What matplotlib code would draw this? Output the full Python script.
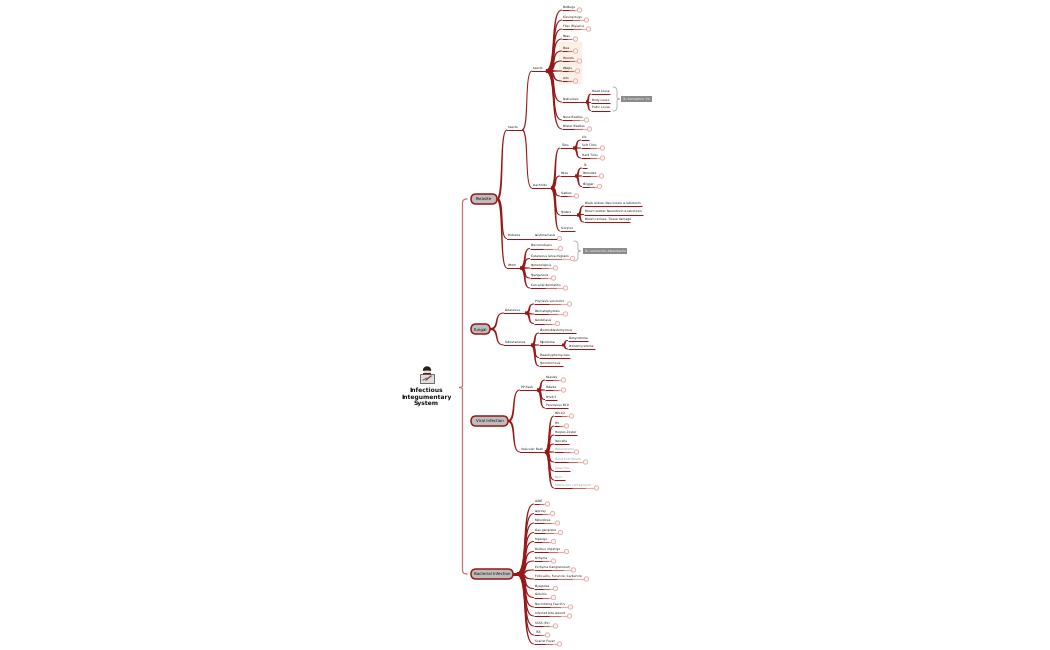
"""Mind map: Infectious Integumentary System."""

import numpy as np
import matplotlib
matplotlib.use("Agg")
import matplotlib.pyplot as plt
from matplotlib.patches import Circle, FancyBboxPatch, Rectangle, Wedge

plt.rcParams["text.hinting"] = "none"
plt.rcParams["text.hinting_factor"] = 1

DARK = "#981818"
MID = "#c06a6a"
PALE = "#e2aaaa"
FONT = "DejaVu Sans"
FS = 2.4
LINE = 0.75
TEXT_LIFT = 1.6

# Parasite > Insects
insect_labels = ["Bedbugs", "Kissing bugs", "Flies (Myiasis)", "Fleas", "Bees", "Hornets", "Wasps", "Ants",
                 "Pediculosis", "Nose Beetles", "Blister Beetles"]
insect_y = [10, 20, 29, 39, 51, 61, 71, 81, 102, 120, 129]
insect_end = [578, 585, 587, 574, 574, 578, 576, 574, 586, 585, 588]
insect_ring = [1, 1, 1, 1, 1, 1, 1, 1, 0, 1, 1]

louse_labels = ["Head Louse", "Body Louse", "Pubic Louse"]
louse_y = [94, 102.5, 110.5]
louse_end = [610, 610, 610]
louse_ring = [0, 0, 0]

# Parasite > Arachnids
arachnid_labels = ["Ticks", "Mites", "Scabies", "Spiders", "Scorpion"]
arachnid_y = [148, 176, 196, 215, 231]
arachnid_end = [573, 575, 575, 577, 575]
arachnid_ring = [0, 0, 1, 0, 0]

tick_labels = ["Life", "Soft Ticks", "Hard Ticks"]
tick_y = [140, 148, 158]
tick_end = [589, 601, 601]
tick_ring = [0, 1, 1]

mite_labels = ["Tx", "Demodex", "Chigger"]
mite_y = [168, 176, 186.5]
mite_end = [587, 600, 598]
mite_ring = [0, 1, 1]

spider_labels = ["Black widow: Neurotoxin α-latrotoxin", "Brown widow: Neurotoxin α-latrotoxin",
                 "Brown recluse: Tissue damage"]
spider_y = [206, 214.5, 222]
spider_end = [642, 643, 630]
spider_ring = [0, 0, 0]

worm_labels = ["Dracunculiasis", "Cutaneous larva migrans", "Hymenolepsis", "Sparganosis", "Cercarial dermatitis"]
worm_y = [248.5, 258.5, 268, 278, 288]
worm_end = [559, 571, 554, 552, 564]
worm_ring = [1, 1, 1, 1, 1]

# Fungal
cutaneous_labels = ["Pityriasis versicolor", "Dermatophytosis", "Candidiasis"]
cutaneous_y = [304, 314, 323.5]
cutaneous_end = [568, 564, 556]
cutaneous_ring = [1, 1, 1]

subcut_labels = ["Chromoblastomycosis", "Mycetoma", "Phaeohyphomycosis", "Sporotrichosis"]
subcut_y = [333, 345, 357.5, 366]
subcut_end = [576, 562, 570, 563]
subcut_ring = [0, 0, 0, 0]

mycetoma_labels = ["Eumycetoma", "Actinomycetoma"]
mycetoma_y = [340.5, 349]
mycetoma_end = [588, 595]
mycetoma_ring = [0, 0]

# Viral
pp_labels = ["Measles", "Rubella", "HHV6/7", "Parvovirus B19"]
pp_y = [380, 390, 399.5, 408]
pp_end = [562, 562, 557, 568]
pp_ring = [1, 1, 0, 0]

vesicular_labels = ["HSV1/2", "HIV", "Herpes Zoster", "Varicella", "Hemangioma", "Hand Foot Mouth", "Small Pox",
                    "Mpox", "Molluscum contagiosum"]
vesicular_y = [416, 426, 435, 444, 452, 462, 471, 480, 488]
vesicular_end = [570, 565, 577, 569, 575, 584, 570, 565, 595]
vesicular_ring = [1, 1, 0, 0, 1, 1, 0, 0, 1]
vesicular_faded = [0, 0, 0, 0, 1, 1, 1, 1, 1]

# Bacterial
bacterial_labels = ["ACNE", "Leprosy", "Melioidosis", "Gas gangrene", "Impetigo", "Bullous impetigo", "Ecthyma",
                    "Ecthyma Gangrenosum", "Folliculitis, Furuncle, Carbuncle", "Erysipelas", "Cellulitis",
                    "Necrotizing Fasciitis", "Infected bite wound", "SSSS (Pe)", "TSS", "Scarlet Fever"]
bacterial_y = [504, 513.5, 523, 532.5, 541.5, 551.5, 561, 570, 579, 588.5, 597.5, 607, 616, 626, 635, 644]
bacterial_end = [546, 551, 556, 559, 552, 565, 552, 572, 585, 554, 552, 569, 568, 554, 546, 558]
bacterial_ring = [1] * 16

main_labels = ["Parasite", "Fungal", "Viral Infection", "Bacterial Infection"]
main_y = [199, 329, 421, 574]
main_right = [497, 490, 508, 513]


def curve(x0, y0, x1, y1, n=40):
    # S shaped bezier that leaves and arrives horizontally
    t = np.linspace(0, 1, n)[:, None]
    dx = x1 - x0
    p = np.array([[x0, y0], [x0 + 0.75 * dx, y0], [x0 + 0.2 * dx, y1], [x1, y1]])
    return (1 - t) ** 3 * p[0] + 3 * (1 - t) ** 2 * t * p[1] + 3 * (1 - t) * t ** 2 * p[2] + t ** 3 * p[3]


def branch(ax, x0, y0, x1, y1, w0=2.6, w1=0.9, color=DARK):
    # tapered ribbon, thick at the hub
    pts = curve(x0, y0, x1, y1)
    d = np.gradient(pts, axis=0)
    norm = np.hypot(d[:, 0], d[:, 1])[:, None] + 1e-9
    nrm = np.hstack([-d[:, 1:2], d[:, 0:1]]) / norm
    w = np.linspace(w0, w1, len(pts))[:, None] / 2
    poly = np.vstack([pts + nrm * w, (pts - nrm * w)[::-1]])
    ax.fill(poly[:, 0], poly[:, 1], color=color, lw=0, zorder=3)


def label(ax, x, y, s, color="#111111", fs=FS, **kw):
    ax.text(x, y, s, fontsize=fs, color=color, family=FONT, va="bottom", ha="left", zorder=6, **kw)


def underline(ax, x0, x1, y, ring):
    ax.plot([x0, x1], [y, y], color=DARK, lw=LINE, zorder=3, solid_capstyle="butt")
    if ring:
        # the line fades out on its way to the ring
        span = x1 - x0
        ax.plot([x0 + span * 0.45, x0 + span * 0.75], [y, y], color=MID, lw=LINE, zorder=4, solid_capstyle="butt")
        ax.plot([x0 + span * 0.75, x1], [y, y], color=PALE, lw=LINE, zorder=4, solid_capstyle="butt")
        ax.add_patch(Circle((x1 + 1.5, y), 2.2, fc="#fdf3f3", ec=PALE, lw=0.6, zorder=5))


def leaf_row(ax, hub, x_text, labels, ys, ends, rings, faded=None):
    for i, (s, y, end, ring) in enumerate(zip(labels, ys, ends, rings)):
        branch(ax, hub[0], hub[1], x_text - 1, y)
        underline(ax, x_text - 1, end, y, ring)
        is_faded = faded is not None and faded[i]
        label(ax, x_text, y - TEXT_LIFT, s, color="#999999" if is_faded else "#111111")


def sub_node(ax, x_text, y, end, s):
    ax.plot([x_text - 1, end], [y, y], color=DARK, lw=LINE, zorder=3)
    label(ax, x_text, y - TEXT_LIFT, s)


def quad(p0, p1, p2, n=12):
    t = np.linspace(0, 1, n)[:, None]
    return (1 - t) ** 2 * np.array(p0) + 2 * (1 - t) * t * np.array(p1) + t ** 2 * np.array(p2)


def brace(ax, x, y0, y1, color="#a8a8a8", lw=0.6, bulge=4, tip=2.5):
    # right pointing curly brace
    ym = (y0 + y1) / 2
    xb = x + bulge
    top = [quad((x, y0), (xb, y0), (xb, y0 + bulge)), quad((xb, ym - 2), (xb, ym), (xb + tip, ym))]
    bottom = [quad((xb + tip, ym), (xb, ym), (xb, ym + 2)), quad((xb, y1 - bulge), (xb, y1), (x, y1))]
    pts = np.vstack(top + bottom)
    ax.plot(pts[:, 0], pts[:, 1], color=color, lw=lw, zorder=2)


def grey_tag(ax, x0, x1, y, s):
    ax.add_patch(Rectangle((x0, y - 2.6), x1 - x0, 5.2, fc="#8b8b8b", ec="none", zorder=5))
    ax.text((x0 + x1) / 2, y, s, fontsize=2.1, color="white", ha="center", va="center", family=FONT, zorder=6)


def draw_icon(ax):
    ax.add_patch(Rectangle((423.5, 367), 7, 7, fc="#f3dcc8", ec="none", zorder=3))
    ax.add_patch(Wedge((427, 370.5), 4.2, 175, 365, fc="#222222", ec="none", zorder=4))
    ax.add_patch(Rectangle((423, 373), 8, 3, fc="#2d2d2d", ec="none", zorder=3))
    ax.add_patch(Rectangle((420, 374), 14, 8.5, fc="#dddddd", ec="#555555", lw=0.6, zorder=5))
    ax.plot([426, 431], [380, 376], color="#a03030", lw=0.9, zorder=6)
    ax.plot([423, 427], [380, 378], color="#666666", lw=0.7, zorder=6)


fig = plt.figure(figsize=(10.5, 6.5), dpi=100)
ax = fig.add_axes([0, 0, 1, 1])
ax.set_xlim(0, 1050)
ax.set_ylim(650, 0)
ax.axis("off")

# peach box behind the stinging insects
ax.add_patch(FancyBboxPatch((559, 42), 23, 42, boxstyle="round,pad=0,rounding_size=2",
                            fc="#fdf1e6", ec="#f5dcc6", lw=0.4, ls=":", zorder=1))

# main brace
brace_pts = np.vstack([quad((467, 199), (462.5, 199), (462.5, 203)), quad((462.5, 385), (462.5, 387.5), (459.5, 387.5)),
                       quad((459.5, 387.5), (462.5, 387.5), (462.5, 390)), quad((462.5, 570), (462.5, 574), (467, 574))])
ax.plot(brace_pts[:, 0], brace_pts[:, 1], color="#c97070", lw=0.9, zorder=2)

# main nodes
for s, y, right in zip(main_labels, main_y, main_right):
    ax.add_patch(FancyBboxPatch((471, y - 5), right - 471, 10, boxstyle="round,pad=0,rounding_size=5",
                                fc="#bdbdbd", ec=DARK, lw=1.1, zorder=6))
    ax.text((471 + right) / 2, y, s, fontsize=3.0, ha="center", va="center", color="#111111", family=FONT, zorder=7)

# parasite
for y in (130, 238.5, 268):
    branch(ax, 497, 199, 507, y, 2.2, 0.9)
sub_node(ax, 508, 130, 522, "Insects")
sub_node(ax, 508, 238.5, 558, "Protozoa")
label(ax, 535, 238.5 - TEXT_LIFT, "Leishmaniasis")
ax.add_patch(Circle((559.5, 238.5), 2.2, fc="#fdf3f3", ec=PALE, lw=0.6, zorder=5))
sub_node(ax, 508, 268, 520, "Worm")

branch(ax, 522, 130, 532, 71, 1.3, 0.9)
branch(ax, 522, 130, 532, 188, 1.3, 0.9)
sub_node(ax, 533, 71, 546, "Insects")
sub_node(ax, 533, 188, 551, "Arachnids")

leaf_row(ax, (546, 71), 563, insect_labels, insect_y, insect_end, insect_ring)
leaf_row(ax, (586, 102), 592, louse_labels, louse_y, louse_end, louse_ring)
brace(ax, 613, 87, 111)
grey_tag(ax, 621, 652, 99, "Tx: Permethrin 1%")

leaf_row(ax, (551, 188), 561, arachnid_labels, arachnid_y, arachnid_end, arachnid_ring)
leaf_row(ax, (573, 148), 582, tick_labels, tick_y, tick_end, tick_ring)
leaf_row(ax, (575, 176), 583, mite_labels, mite_y, mite_end, mite_ring)
leaf_row(ax, (577, 215), 585, spider_labels, spider_y, spider_end, spider_ring)

leaf_row(ax, (520, 268), 531, worm_labels, worm_y, worm_end, worm_ring)
brace(ax, 574, 241, 261)
grey_tag(ax, 583, 627, 251, "Tx: Ivermectin, Albendazole")

# fungal
branch(ax, 490, 329, 504, 313, 2.2, 0.9)
branch(ax, 490, 329, 504, 345, 2.2, 0.9)
sub_node(ax, 505, 313, 525, "Cutaneous")
sub_node(ax, 505, 345, 531, "Subcutaneous")
leaf_row(ax, (525, 313), 535, cutaneous_labels, cutaneous_y, cutaneous_end, cutaneous_ring)
leaf_row(ax, (531, 345), 540, subcut_labels, subcut_y, subcut_end, subcut_ring)
leaf_row(ax, (562, 345), 569, mycetoma_labels, mycetoma_y, mycetoma_end, mycetoma_ring)

# viral
branch(ax, 508, 421, 520, 390, 2.2, 0.9)
branch(ax, 508, 421, 520, 452, 2.2, 0.9)
sub_node(ax, 521, 390, 537, "PP Rash")
sub_node(ax, 521, 452, 545, "Vesicular Rash")
leaf_row(ax, (537, 390), 546, pp_labels, pp_y, pp_end, pp_ring)
leaf_row(ax, (545, 452), 555, vesicular_labels, vesicular_y, vesicular_end, vesicular_ring, vesicular_faded)

# bacterial, the trunk starts a little right of the node
ax.plot([513, 518], [574, 574], color=DARK, lw=2.2, zorder=3)
leaf_row(ax, (517, 574), 535, bacterial_labels, bacterial_y, bacterial_end, bacterial_ring)

# centre
draw_icon(ax)
ax.text(426.5, 397, "Infectious\nIntegumentary\nSystem", fontsize=4.1, fontweight="bold", ha="center", va="center",
        color="#111111", family=FONT, linespacing=1.15, zorder=6)

fig.savefig("out.png", dpi=100)
